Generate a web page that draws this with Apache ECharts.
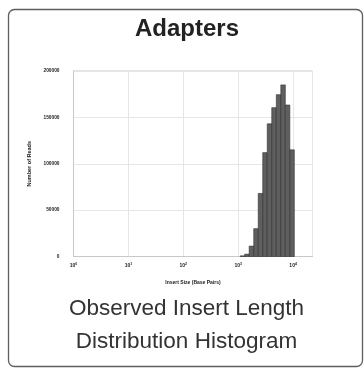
<!DOCTYPE html>
<html>
<head>
<meta charset="utf-8">
<script src="https://cdn.jsdelivr.net/npm/echarts@6/dist/echarts.min.js"></script>
<style>
  html, body { margin: 0; padding: 0; background: #fff; }
  #frame, #plot { position: absolute; left: 0; top: 0; width: 364px; height: 368px; }
  /* the embedded histogram is a small raster, so it renders soft */
  #plot { filter: blur(0.55px); }
</style>
</head>
<body>
<div id="frame"></div>
<div id="plot"></div>
<script>
// Insert length histogram: log-spaced bins (bp) and read counts per bin
const binEdges = [1086, 1312, 1585, 1919, 2317, 2799, 3381, 4083, 4943, 5970, 7211, 8710, 10520];
const readCounts = [700, 2500, 11200, 30000, 68000, 112000, 143000, 160500, 174500, 185000, 163300, 115000];
const yTicks = [0, 50000, 100000, 150000, 200000];
const xDecades = [1, 10, 100, 1000, 10000];

const cardTitle = 'Adapters';
const captionLines = ['Observed Insert Length', 'Distribution Histogram'];

// Card outline, heading and caption
const frame = echarts.init(document.getElementById('frame'), null, { renderer: 'canvas' });
frame.setOption({
  animation: false,
  graphic: [
    {
      type: 'rect',
      shape: { x: 8.5, y: 9.5, width: 354, height: 357, r: 6 },
      style: { fill: '#fff', stroke: '#5e5e5e', lineWidth: 1.3 }
    },
    {
      type: 'text',
      style: {
        text: cardTitle, x: 187, y: 29, align: 'center', verticalAlign: 'middle',
        fontFamily: 'Liberation Sans, Arial, sans-serif', fontWeight: 'bold', fontSize: 24, fill: '#222'
      }
    },
    {
      type: 'text',
      style: {
        text: captionLines[0], x: 186.5, y: 308.5, align: 'center', verticalAlign: 'middle',
        fontFamily: 'Liberation Sans, Arial, sans-serif', fontSize: 22.5, fill: '#333'
      }
    },
    {
      type: 'text',
      style: {
        text: captionLines[1], x: 186.5, y: 342, align: 'center', verticalAlign: 'middle',
        fontFamily: 'Liberation Sans, Arial, sans-serif', fontSize: 22.5, fill: '#333'
      }
    }
  ]
});

// Histogram plot
const bins = readCounts.map((c, i) => [binEdges[i], binEdges[i + 1], c]);
const plot = echarts.init(document.getElementById('plot'), null, { renderer: 'canvas' });
plot.setOption({
  animation: false,
  backgroundColor: 'transparent',
  grid: {
    left: 73.5, top: 71, width: 239, height: 185.5,
    show: true, borderColor: '#c8c8c8', borderWidth: 1, containLabel: false
  },
  xAxis: {
    type: 'log',
    logBase: 10,
    min: xDecades[0],
    max: 22550,
    name: 'Insert Size (Base Pairs)',
    nameLocation: 'middle',
    nameGap: 24,
    nameTextStyle: { fontSize: 5, fontWeight: 'bold', color: '#222', fontFamily: 'Liberation Sans, Arial, sans-serif' },
    axisLine: { show: true, lineStyle: { color: '#c8c8c8' } },
    axisTick: { show: false },
    splitLine: { show: true, lineStyle: { color: '#e6e6e6', width: 1 } },
    axisLabel: {
      showMaxLabel: false,
      margin: 6,
      fontSize: 5,
      fontWeight: 'bold',
      color: '#222',
      fontFamily: 'Liberation Sans, Arial, sans-serif',
      formatter: function (v) {
        const p = Math.round(Math.log10(v));
        if (xDecades.indexOf(Math.pow(10, p)) < 0 || Math.abs(Math.log10(v) - p) > 1e-6) return '';
        return '10{sup|' + p + '}';
      },
      rich: { sup: { fontSize: 3.5, fontWeight: 'bold', verticalAlign: 'top', padding: [0, 0, 3, 0], color: '#222' } }
    }
  },
  yAxis: {
    type: 'value',
    min: yTicks[0],
    max: yTicks[yTicks.length - 1],
    interval: yTicks[1] - yTicks[0],
    name: 'Number of Reads',
    nameLocation: 'middle',
    nameGap: 36,
    nameTextStyle: { fontSize: 5.5, fontWeight: 'bold', color: '#222', fontFamily: 'Liberation Sans, Arial, sans-serif' },
    axisLine: { show: true, lineStyle: { color: '#c8c8c8' } },
    axisTick: { show: false },
    splitLine: { show: true, lineStyle: { color: '#e6e6e6', width: 1 } },
    axisLabel: {
      margin: 14,
      fontSize: 4.8,
      fontWeight: 'bold',
      color: '#1a1a1a',
      fontFamily: 'Liberation Sans, Arial, sans-serif',
      formatter: function (v) { return String(v); }
    }
  },
  series: [{
    type: 'custom',
    data: bins,
    encode: { x: [0, 1], y: 2 },
    renderItem: function (params, api) {
      const p0 = api.coord([api.value(0), 0]);
      const p1 = api.coord([api.value(1), api.value(2)]);
      return {
        type: 'rect',
        shape: { x: p0[0], y: p1[1], width: p1[0] - p0[0], height: p0[1] - p1[1] },
        style: { fill: '#5f5f5f', stroke: '#2e2e2e', lineWidth: 0.6 }
      };
    }
  }]
});
</script>
</body>
</html>
